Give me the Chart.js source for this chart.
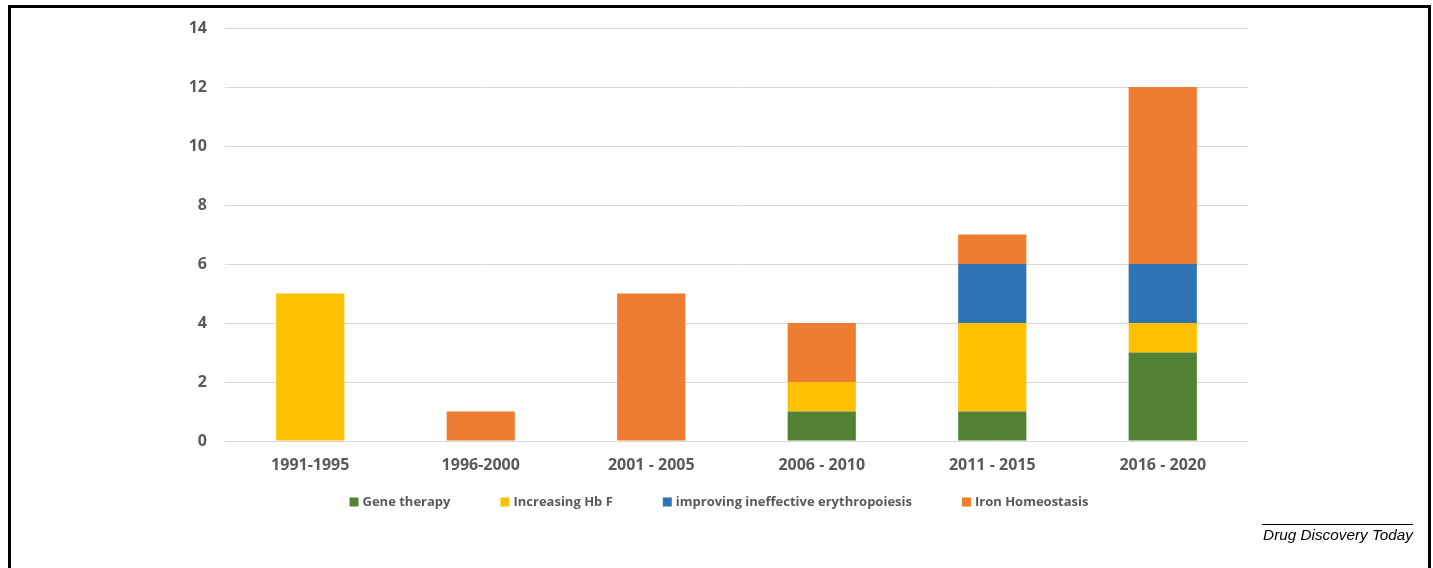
<!DOCTYPE html>
<html>
<head>
<meta charset="utf-8">
<script src="https://cdn.jsdelivr.net/npm/chart.js@4.4.0/dist/chart.umd.min.js"></script>
<style>
  body { margin: 0; background: #fff; width: 1433px; height: 568px; overflow: hidden; position: relative; }
  #frame { position: absolute; left: 8px; top: 5px; width: 1423px; height: 600px; box-sizing: border-box;
    border: 3px solid #000; border-bottom: none; }
  #wrap { position: absolute; left: 0; top: 0; width: 1433px; height: 568px; }
  #source { position: absolute; left: 1262px; top: 524px; width: 151px; border-top: 1px solid #000;
    font-family: "Liberation Sans", Arial, sans-serif; font-style: italic; font-size: 15.3px;
    color: #000; text-align: right; padding-top: 1px; white-space: nowrap; }
</style>
</head>
<body>
<div id="frame"></div>
<div id="wrap"><canvas id="chart"></canvas></div>
<div id="source">Drug Discovery Today</div>
<script>
const periods = ["1991-1995", "1996-2000", "2001 - 2005", "2006 - 2010", "2011 - 2015", "2016 - 2020"];
const geneTherapy = [0, 0, 0, 1, 1, 3];
const increasingHbF = [5, 0, 0, 1, 3, 1];
const improvingErythropoiesis = [0, 0, 0, 0, 2, 2];
const ironHomeostasis = [0, 1, 5, 2, 1, 6];
const yTicks = [0, 2, 4, 6, 8, 10, 12, 14];

const textGray = "#595959";

// legend drawn by hand so the wide spacing of the original can be kept
const spacedLegend = {
  id: "spacedLegend",
  afterDraw(chart) {
    const ctx = chart.ctx;
    const sets = chart.data.datasets;
    const box = 9, gap = 4, spacing = 50;
    ctx.save();
    ctx.font = "bold 13px 'Open Sans'";
    let total = 0;
    const widths = sets.map((ds) => ctx.measureText(ds.label).width);
    widths.forEach((w) => (total += box + gap + w));
    total += spacing * (sets.length - 1);
    let x = 719 - total / 2;
    const y = 502;
    sets.forEach((ds, i) => {
      ctx.fillStyle = ds.backgroundColor;
      ctx.fillRect(x, y - box / 2, box, box);
      ctx.fillStyle = textGray;
      ctx.textBaseline = "middle";
      ctx.fillText(ds.label, x + box + gap, y);
      x += box + gap + widths[i] + spacing;
    });
    ctx.restore();
  },
};

const ctx = document.getElementById("chart").getContext("2d");

new Chart(ctx, {
  type: "bar",
  data: {
    labels: periods,
    datasets: [
      { label: "Gene therapy", data: geneTherapy, backgroundColor: "#548235" },
      { label: "Increasing Hb F", data: increasingHbF, backgroundColor: "#FFC000" },
      { label: "improving ineffective erythropoiesis", data: improvingErythropoiesis, backgroundColor: "#2E75B6" },
      { label: "Iron Homeostasis", data: ironHomeostasis, backgroundColor: "#ED7D31" },
    ],
  },
  options: {
    responsive: true,
    maintainAspectRatio: false,
    animation: false,
    layout: { padding: { top: 28, right: 185, bottom: 67, left: 0 } },
    datasets: { bar: { categoryPercentage: 1, barPercentage: 0.4 } },
    plugins: { legend: { display: false }, tooltip: { enabled: false } },
    scales: {
      x: {
        stacked: true,
        grid: { display: false },
        border: { display: false },
        ticks: { color: textGray, font: { family: "Open Sans", size: 16, weight: "bold" }, padding: 7 },
        afterFit(scale) { scale.height = 60; },
      },
      y: {
        stacked: true,
        min: 0,
        max: 14,
        afterBuildTicks(scale) { scale.ticks = yTicks.map((v) => ({ value: v })); },
        grid: { color: "#d9d9d9", lineWidth: 1, drawTicks: false },
        border: { display: false },
        ticks: { color: textGray, font: { family: "Open Sans", size: 16, weight: "bold" }, padding: 18 },
        afterFit(scale) { scale.width = 225; },
      },
    },
  },
  plugins: [spacedLegend],
});
</script>
</body>
</html>
